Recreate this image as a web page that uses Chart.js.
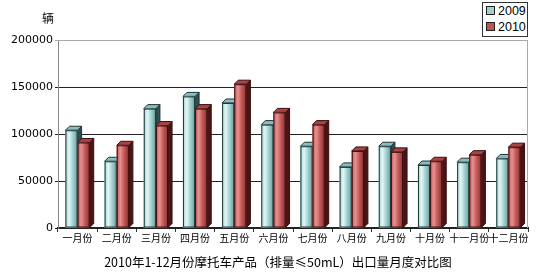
<!DOCTYPE html>
<html><head><meta charset="utf-8">
<script src="https://cdn.jsdelivr.net/npm/chart.js@4.4.1/dist/chart.umd.min.js"></script>
<style>
html,body{margin:0;padding:0;background:#fff;}
#wrap{position:relative;width:550px;height:274px;}
#legend{position:absolute;left:482px;top:2px;width:44px;height:33px;border:1px solid #333;background:#fff;font:12.5px "Liberation Sans",Arial,sans-serif;color:#000;}
#legend div{height:16px;line-height:16px;padding-left:3px;white-space:nowrap;}
#legend span{display:inline-block;width:7px;height:7px;border:1px solid #222;margin-right:3px;vertical-align:0px;}
</style></head><body>
<div id="wrap"><canvas id="c" width="550" height="274"></canvas>
<div id="legend"><div><span style="background:#9fd0d0"></span>2009</div><div><span style="background:#c05454"></span>2010</div></div>
</div>
<script>
const categories = ["一月份","二月份","三月份","四月份","五月份","六月份","七月份","八月份","九月份","十月份","十一月份","十二月份"];
const series2009 = [104000, 71000, 127000, 140000, 133000, 110000, 87000, 65000, 87000, 67000, 70000, 74000];
const series2010 = [91000, 88000, 109000, 127000, 153000, 123000, 110000, 82000, 81000, 71000, 78000, 86000];
const yTicks = [0, 50000, 100000, 150000, 200000];
const unitLabel = "辆";
const chartTitle = "2010年1-12月份摩托车产品（排量≤50mL）出口量月度对比图";

const styles = [
  {light:'#e4f6f6', mid:'#a3d3d3', dark:'#6b9e9e', side:'#2e4f4f', top:'#8cbcbc', line:'#1e3535'},
  {light:'#e89090', mid:'#c45a5a', dark:'#8c3232', side:'#4a1414', top:'#a84444', line:'#3a0e0e'}
];

const bar3d = {
  id:'bar3d',
  afterDatasetsDraw(chart){
    const ctx = chart.ctx, d = 4;
    const n = chart.data.labels.length;
    for(let k=0;k<n;k++){
      chart.data.datasets.forEach((ds,i)=>{
        const el = chart.getDatasetMeta(i).data[k];
        const {x,y,base,width} = el.getProps(['x','y','base','width'],true);
        const s = styles[i];
        const l = x - width/2, r = x + width/2;
        ctx.save();
        ctx.lineWidth = 1;
        ctx.strokeStyle = s.line;
        ctx.beginPath();
        ctx.moveTo(r,y);ctx.lineTo(r+d,y-d);ctx.lineTo(r+d,base-d);ctx.lineTo(r,base);ctx.closePath();
        ctx.fillStyle = s.side;ctx.fill();ctx.stroke();
        ctx.beginPath();
        ctx.moveTo(l,y);ctx.lineTo(l+d,y-d);ctx.lineTo(r+d,y-d);ctx.lineTo(r,y);ctx.closePath();
        ctx.fillStyle = s.top;ctx.fill();ctx.stroke();
        const g = ctx.createLinearGradient(l,0,r,0);
        g.addColorStop(0,s.mid);g.addColorStop(0.3,s.light);g.addColorStop(0.6,s.mid);g.addColorStop(1,s.dark);
        ctx.fillStyle = g;
        ctx.fillRect(l,y,width,base-y);
        ctx.strokeRect(l+0.5,y+0.5,width-1,base-y-1);
        ctx.restore();
      });
    }
  },
  afterDraw(chart){
    const ctx = chart.ctx, a = chart.chartArea;
    ctx.save();
    ctx.fillStyle = '#000';
    ctx.font = '12px "Noto Sans CJK SC", sans-serif';
    ctx.textAlign = 'center';ctx.textBaseline = 'middle';
    ctx.fillText(unitLabel, a.left-10, 18);
    ctx.font = '12.5px "Noto Sans CJK SC", sans-serif';
    ctx.fillText(chartTitle, 278, 262);
    ctx.restore();
  },
  beforeDatasetsDraw(chart){
    const ctx = chart.ctx, a = chart.chartArea;
    ctx.save();
    ctx.strokeStyle = '#aaa';ctx.lineWidth = 1;
    ctx.beginPath();
    ctx.moveTo(a.left, a.top+0.5);ctx.lineTo(a.right-0.5, a.top+0.5);ctx.lineTo(a.right-0.5, a.bottom);
    ctx.stroke();
    ctx.restore();
  }
};

new Chart(document.getElementById('c'), {
  type:'bar',
  data:{labels:categories, datasets:[
    {label:'2009', data:series2009, backgroundColor:'#a3d3d3', borderWidth:0},
    {label:'2010', data:series2010, backgroundColor:'#c45a5a', borderWidth:0}
  ]},
  options:{
    responsive:false, animation:false,
    layout:{padding:{left:0,right:22,top:40,bottom:0}},
    datasets:{bar:{categoryPercentage:0.62, barPercentage:1}},
    plugins:{ legend:{display:false}, tooltip:{enabled:false}, title:{display:false} },
    scales:{
      x:{
        grid:{drawOnChartArea:false, drawTicks:true, tickLength:4, color:'#333'},
        border:{color:'#222', width:2},
        ticks:{color:'#000', padding:0, maxRotation:0, autoSkip:false,
          font:{family:'"Noto Sans CJK SC", sans-serif', size:10}},
        afterFit(s){ s.height = 46; }
      },
      y:{
        min:0, max:200000,
        afterBuildTicks(s){ s.ticks = yTicks.map(v=>({value:v})); },
        grid:{color:(c)=> c.tick && c.tick.value===200000 ? '#aaa' : '#222', tickLength:3, lineWidth:1},
        border:{color:'#888'},
        ticks:{color:'#000', padding:2, font:{family:'"DejaVu Sans", sans-serif', size:11},
          callback:(v)=>String(v)},
        afterFit(s){ s.width = 58; }
      }
    }
  },
  plugins:[bar3d]
});
</script>
</body></html>
